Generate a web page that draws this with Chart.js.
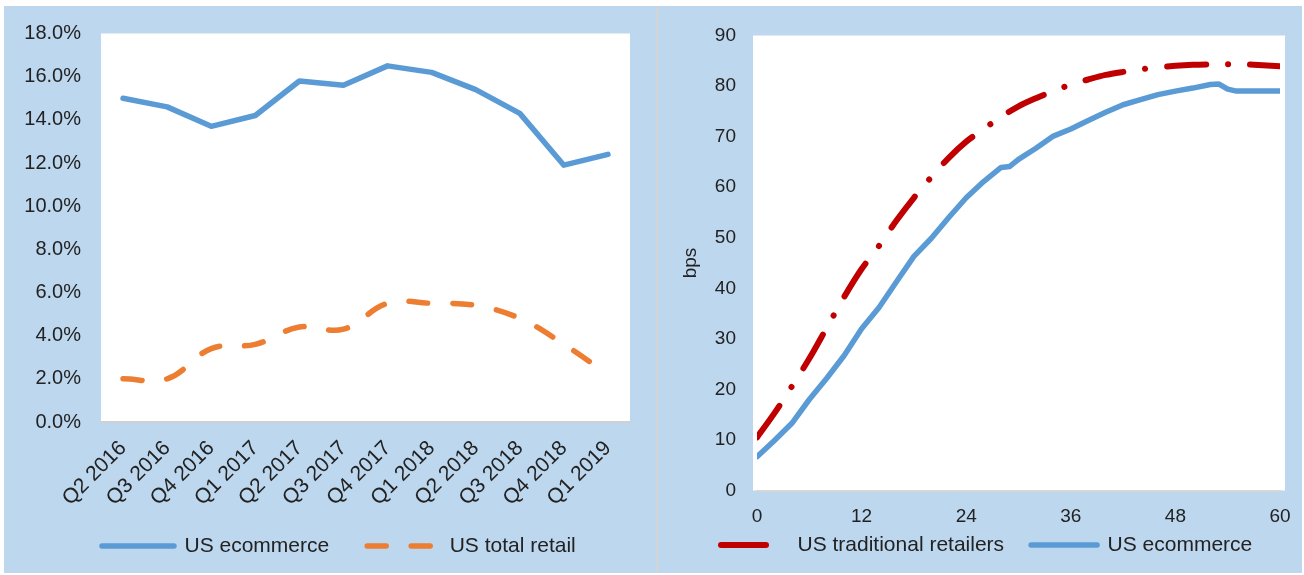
<!DOCTYPE html>
<html><head><meta charset="utf-8">
<script src="https://cdn.jsdelivr.net/npm/chart.js@4/dist/chart.umd.min.js"></script>
<style>
html,body{margin:0;padding:0;background:#fff;width:1304px;height:575px;overflow:hidden;}
.panel{position:absolute;background:#BDD7EE;}
#p1{left:4px;top:6px;width:652px;height:567px;}
#p2{left:658px;top:6px;width:644px;height:567px;}
#sep{position:absolute;left:656px;top:6px;width:2px;height:567px;background:#d4d4d4;}
canvas{display:block;}
</style></head><body>
<div class="panel" id="p1"><canvas id="c1" width="652" height="567"></canvas></div>
<div id="sep"></div>
<div class="panel" id="p2"><canvas id="c2" width="644" height="567"></canvas></div>
<script>
// ---- Left chart data ----
const quarters = ['Q2 2016','Q3 2016','Q4 2016','Q1 2017','Q2 2017','Q3 2017','Q4 2017','Q1 2018','Q2 2018','Q3 2018','Q4 2018','Q1 2019'];
const usEcommerceGrowth = [15.0,14.6,13.7,14.2,15.8,15.6,16.5,16.2,15.4,14.3,11.9,12.4];
const usTotalRetailGrowth = [2.0,2.0,3.4,3.6,4.4,4.3,5.5,5.5,5.4,4.8,3.6,2.2];
const leftYTicks = [0,2,4,6,8,10,12,14,16,18];

// ---- Right chart data ----
const monthsTraditional = [0,2,4,6,8,10,12,14,16,18,20,22,24,26,28,30,32,34,36,38,40,42,44,46,48,50,52,54,56,58,60];
const usTraditional = [10.5,15.3,20.6,26.1,32.2,38.3,43.8,48.4,53.4,57.9,62.0,65.8,69.0,71.5,73.9,76.0,77.6,79.0,80.3,81.3,82.2,82.8,83.3,83.7,84.0,84.2,84.3,84.3,84.3,84.1,83.9];
const monthsEcommerce = [0,2,4,6,8,10,12,14,16,18,20,22,24,26,28,29,30,32,34,36,38,40,42,44,46,48,50,52,53,54,55,56,58,60];
const usEcommerceBps = [6.7,9.9,13.3,18.0,22.2,26.7,32.0,36.2,41.3,46.3,49.9,54.0,57.9,61.1,63.9,64.1,65.5,67.7,70.1,71.5,73.2,74.8,76.3,77.3,78.3,79.0,79.6,80.3,80.4,79.4,79.0,79.0,79.0,79.0];
const rightXTicks = [0,12,24,36,48,60];
const rightYTicks = [0,10,20,30,40,50,60,70,80,90];

const FONT = "'Liberation Sans', Arial, sans-serif";
const TXT = '#222222';
Chart.defaults.font.family = FONT;
Chart.defaults.color = TXT;

const plotBg = {
  id: 'plotBg',
  beforeDraw(chart, args, opts) {
    const a = chart.chartArea, ctx = chart.ctx;
    ctx.save();
    ctx.fillStyle = '#ffffff';
    ctx.fillRect(a.left - (opts.padL||0), a.top, a.width + (opts.padL||0) + (opts.padR||0), a.bottom - a.top);
    ctx.restore();
  }
};
// positions the legend row (first sample's left edge and text middle line)
const legendShift = {
  id: 'legendShift',
  afterLayout(chart, args, opts) {
    const L = chart.legend;
    if (!L || !L.lineWidths) return;
    const p = L.options.labels.padding;
    const start = (L.left + p + L.right - L.lineWidths[0]) / 2;
    const dx = opts.target - start;
    L.left += dx; L.right += dx;
    const fs = L.options.labels.font.size;
    const dy = opts.targetY - (L.top + p + fs / 2);
    L.top += dy;
    L.bottom = chart.height;
    L.height = L.bottom - L.top;
  }
};
function legendLabels(chart) {
  const items = Chart.defaults.plugins.legend.labels.generateLabels(chart);
  items.forEach((it, i) => {
    const ds = chart.data.datasets[i];
    it.lineDash = ds.legendDash || ds.borderDash || [];
    it.lineCap = ds.borderCapStyle || 'butt';
    it.lineWidth = ds.borderWidth;
    it.strokeStyle = ds.borderColor;
  });
  return items;
}

// ---- Left chart ----
new Chart(document.getElementById('c1'), {
  type: 'line',
  data: {
    labels: quarters,
    datasets: [
      { label: 'US ecommerce', data: usEcommerceGrowth, borderColor: '#5B9BD5', backgroundColor: '#5B9BD5',
        borderWidth: 5.5, pointRadius: 0, tension: 0, borderCapStyle: 'round', borderJoinStyle: 'round' },
      { label: 'US total retail', data: usTotalRetailGrowth, borderColor: '#ED7D31', backgroundColor: '#ED7D31',
        borderWidth: 5.5, pointRadius: 0, tension: 0.4, borderDash: [19, 25], borderCapStyle: 'round', borderJoinStyle: 'round' }
    ]
  },
  options: {
    responsive: false, animation: false, devicePixelRatio: 1,
    layout: { padding: { left: 0, right: 26, top: 27.5, bottom: 0 } },
    scales: {
      x: {
        offset: true,
        grid: { display: false, drawTicks: true, tickLength: 14 },
        border: { display: true, color: '#d0d0d0', width: 2, dash: [2, 2] },
        ticks: { autoSkip: false, minRotation: 45, maxRotation: 45, padding: 0, font: { size: 21 }, color: TXT },
        afterFit(s) { s.height = 141; }
      },
      y: {
        min: 0, max: 18,
        grid: { display: false, drawTicks: true, tickLength: 20 },
        border: { display: false },
        afterBuildTicks(s) { s.ticks = leftYTicks.map(v => ({ value: v })); },
        ticks: { padding: 0, font: { size: 20 }, color: TXT, callback: v => v.toFixed(1) + '%' },
        afterFit(s) { s.width = 97; }
      }
    },
    plugins: {
      tooltip: { enabled: false },
      plotBg: {},
      legendShift: { target: 98, targetY: 540 },
      legend: {
        position: 'bottom', maxHeight: 10,
        labels: { usePointStyle: true, pointStyle: 'line', pointStyleWidth: 72, padding: 38,
                  font: { size: 21 }, color: TXT, generateLabels: legendLabels }
      }
    }
  },
  plugins: [plotBg, legendShift]
});

// ---- Right chart ----
new Chart(document.getElementById('c2'), {
  type: 'line',
  data: {
    datasets: [
      { label: 'US traditional retailers', data: monthsTraditional.map((m, i) => ({ x: m, y: usTraditional[i] })),
        borderColor: '#C00000', backgroundColor: '#C00000', borderWidth: 6, pointRadius: 0, tension: 0.3,
        borderDash: [39, 22, 0.1, 22], borderCapStyle: 'round', borderJoinStyle: 'round', legendDash: [45, 300] },
      { label: 'US ecommerce', data: monthsEcommerce.map((m, i) => ({ x: m, y: usEcommerceBps[i] })),
        borderColor: '#5B9BD5', backgroundColor: '#5B9BD5', borderWidth: 5.5, pointRadius: 0, tension: 0,
        borderCapStyle: 'round', borderJoinStyle: 'round' }
    ]
  },
  options: {
    responsive: false, animation: false, devicePixelRatio: 1,
    layout: { padding: { left: 0, right: 22, top: 29.5, bottom: 0 } },
    scales: {
      x: {
        type: 'linear', min: 0, max: 60,
        grid: { display: false, drawTicks: true, tickLength: 15 },
        border: { display: true, color: '#d6d6d6', width: 2 },
        afterBuildTicks(s) { s.ticks = rightXTicks.map(v => ({ value: v })); },
        ticks: { padding: 0, font: { size: 19 }, color: TXT, maxRotation: 0 },
        afterFit(s) { s.height = 72.5; }
      },
      y: {
        min: 0, max: 90,
        grid: { display: false, drawTicks: true, tickLength: 21 },
        border: { display: false },
        title: { display: true, text: 'bps', font: { size: 19 }, color: TXT, padding: { top: 21, bottom: 0 } },
        afterBuildTicks(s) { s.ticks = rightYTicks.map(v => ({ value: v })); },
        ticks: { padding: 0, font: { size: 19 }, color: TXT },
        afterFit(s) { s.width = 99; }
      }
    },
    plugins: {
      tooltip: { enabled: false },
      plotBg: { padL: 4, padR: 5 },
      legendShift: { target: 63, targetY: 539 },
      legend: {
        position: 'bottom', maxHeight: 10,
        labels: { usePointStyle: true, pointStyle: 'line', pointStyleWidth: 66, padding: 27,
                  font: { size: 21 }, color: TXT, generateLabels: legendLabels }
      }
    }
  },
  plugins: [plotBg, legendShift]
});
</script>
</body></html>
